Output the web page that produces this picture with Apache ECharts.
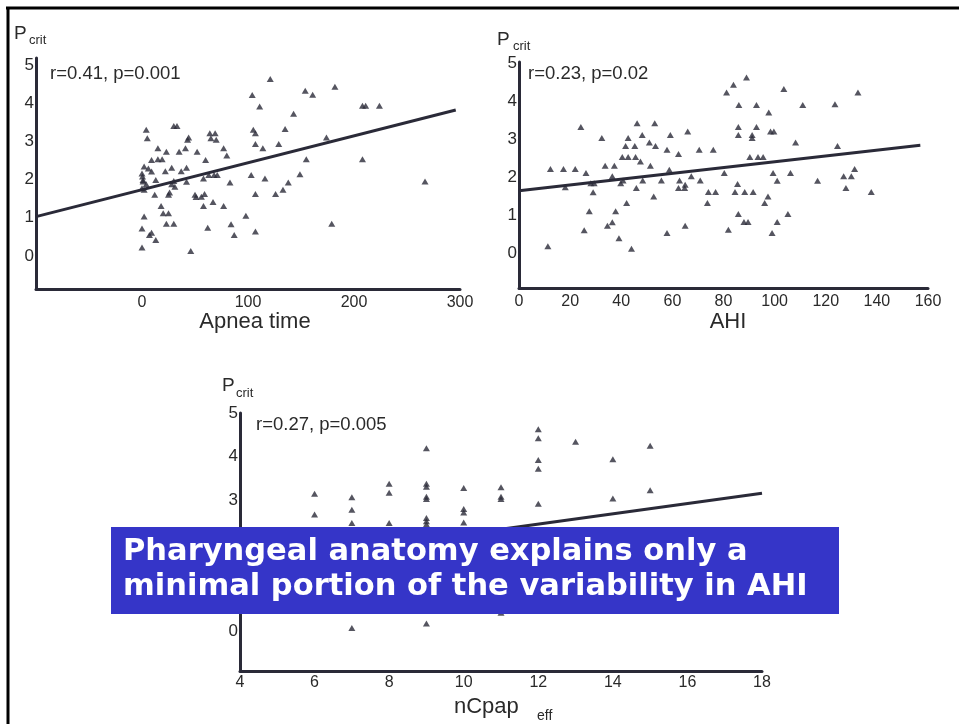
<!DOCTYPE html>
<html><head><meta charset="utf-8">
<script src="https://cdn.jsdelivr.net/npm/echarts@6/dist/echarts.min.js"></script>
<style>html,body{margin:0;padding:0;background:#fff}#c{width:959px;height:724px}</style>
</head><body><div id="c"></div>
<script>
// ---- data ----
const apneaPcrit = [
 [121,4.63],[104,4.21],[154,4.32],[161,4.22],[111,3.91],[143,3.72],
 [4,3.30],[5,3.08],[30,3.40],[33,3.40],[44,3.10],[43,3.04],[64,3.21],[69,3.21],[65,3.08],[70,3.04],[105,3.30],[107,3.21],[135,3.32],
 [15,2.82],[23,2.73],[35,2.73],[41,2.82],[52,2.73],[77,2.82],[80,2.63],[107,2.93],[114,2.82],[129,2.93],
 [9,2.51],[15,2.53],[19,2.53],[60,2.51],[155,2.53],
 [2,2.34],[6,2.29],[9,2.21],[22,2.22],[28,2.31],[37,2.22],[42,2.31],
 [0,2.16],[0.5,2.08],[1,1.99],[1,1.95],[4,1.88],[13,1.99],[30,1.96],[28,1.88],[31,1.81],[42,1.94],[58,2.03],[63,2.12],[68,2.12],[71,2.12],[83,1.92],[103,2.12],[116,2.03],[149,2.14],
 [0,1.77],[2,1.73],[12,1.60],[25,1.60],[26,1.66],[50,1.60],[51,1.54],[56,1.55],[59,1.62],[107,1.62],[126,1.62],[133,1.73],[138,1.92],
 [18,1.31],[20,1.12],[25,1.12],[58,1.31],[67,1.41],[77,1.31],[98,1.05],[2,1.03],[0,0.72],[23,0.84],[30,0.84],[9,0.61],[7,0.55],[13,0.42],[62,0.74],[84,0.83],[87,0.55],[107,0.64],[0,0.22],[46,0.13],
 [182,4.43],[208,3.93],[211,3.93],[224,3.93],[174,3.10],[208,2.53],[267,1.95],[179,0.84]
];
const ahiPcrit = [
 [11.3,0.18],[12.3,2.21],[17.4,2.21],[18.1,1.73],[22,2.21],[24.2,3.32],[26.2,2.11],[25.5,0.60],[27.5,1.10],[28.1,1.84],[29.4,1.84],[29,1.60],
 [32.4,3.03],[33.7,2.30],[34.6,0.72],[36.5,0.81],[36.5,2.02],[37.3,2.30],[37.8,1.10],[39.1,0.39],[39.8,1.84],[40.7,1.91],[40.4,2.53],[42.7,2.53],
 [41.7,2.82],[42.7,3.03],[42.1,1.32],[44,0.11],[45.3,2.82],[45.6,2.53],[46.2,3.42],[45.9,1.71],[47.5,2.41],[48.2,3.11],[48.4,1.91],
 [51,2.91],[51.4,2.30],[52.7,1.49],[53.1,3.42],[53.4,2.82],[55.7,1.91],[57.9,2.72],[57.9,0.53],[59.2,3.11],[58.8,2.19],
 [62.4,2.61],[62.8,1.91],[62.4,1.71],[64.8,1.71],[65,1.80],[65,0.72],[66,3.20],[67.4,2.02],[70.5,2.72],[70.9,1.91],
 [73.7,1.32],[74.1,1.61],[76.9,1.61],[76,2.72],[80.3,2.11],[81.2,4.23],[81.9,0.61],[83.9,4.43],[86,3.90],[85.8,3.32],[85.8,3.11],
 [85.5,1.82],[85.8,1.03],[84.5,1.61],[89,4.62],[88,0.82],[89.6,0.82],[88.3,1.61],[91.6,1.61],[90.3,2.53],[91.2,3.11],[91.2,3.03],
 [92.9,3.90],[92.9,3.32],[93.5,2.53],[95.5,2.53],[96.1,1.32],[97.4,1.49],[97.7,3.70],[98.4,3.20],[99.7,3.20],[99.4,2.11],[99,0.53],
 [101,1.90],[101,0.82],[103.6,4.32],[105.2,1.03],[106.2,2.11],[108.2,2.91],[111,3.90],[116.8,1.90],[123.6,3.92],[124.6,2.82],
 [127,2.02],[130,2.02],[127.9,1.71],[131.3,2.21],[132.6,4.23],[137.8,1.61]
];
const ncpapPcrit = [
 [6,3.15],[6,2.67],[7,3.07],[7,2.78],[7,2.48],[7,0.07],[8,3.38],[8,3.17],[8,2.48],
 [9,4.19],[9,3.38],[9,3.31],[9,3.08],[9,3.03],[9,2.59],[9,2.52],[9,2.45],[9,0.17],
 [10,3.28],[10,2.80],[10,2.72],[10,2.49],[11,3.30],[11,3.08],[11,3.03],[11,0.42],
 [12,4.63],[12,4.42],[12,3.92],[12,3.72],[12,2.92],[13,4.34],[14,3.94],[14,3.04],[15,4.25],[15,3.23]
];
const apneaFit = [[-100,1.03],[296,3.82]];
const ahiFit = [[0,1.64],[157,2.84]];
const ncpapFit = [[4,1.51],[18,3.16]];
const yTicks = [0,1,2,3,4,5];
const apneaTicks = [0,100,200,300];
const ahiTicks = [0,20,40,60,80,100,120,140,160];
const ncpapTicks = [4,6,8,10,12,14,16,18];
const statsText = ['r=0.41, p=0.001','r=0.23, p=0.02','r=0.27, p=0.005'];
const xNames = ['Apnea time','AHI','nCpap'];
const bannerLines = ['Pharyngeal anatomy explains only a','minimal portion of the variability in AHI'];

// ---- chart ----
const ink = '#2a2a38';
const font = "'Liberation Sans', Arial, sans-serif";
const chart = echarts.init(document.getElementById('c'), null, {renderer:'canvas'});

function xAx(idx, min, max, ticks, margin){
  return {gridIndex: idx, type:'value', min, max,
    axisLine:{show:true, onZero:false, lineStyle:{color:ink, width:3}},
    axisTick:{show:false}, splitLine:{show:false},
    axisLabel:{customValues: ticks, margin, color:'#2a2a2a', fontSize:16, fontFamily:font, showMinLabel:true, showMaxLabel:true}};
}
function yAx(idx, min, max){
  return {gridIndex: idx, type:'value', min, max,
    axisLine:{show:true, onZero:false, lineStyle:{color:ink, width:3}},
    axisTick:{show:false}, splitLine:{show:false},
    axisLabel:{customValues: yTicks, margin:2, color:'#2a2a2a', fontSize:17, fontFamily:font, showMinLabel:true, showMaxLabel:true}};
}
function scat(i, data){
  return {type:'scatter', xAxisIndex:i, yAxisIndex:i, data, symbol:'triangle', symbolSize:[7,6],
    itemStyle:{color:ink}, silent:true, z:3};
}
function fit(i, data){
  return {type:'line', xAxisIndex:i, yAxisIndex:i, data, symbol:'none',
    lineStyle:{color:ink, width:3}, silent:true, z:2};
}
function txt(x, y, text, size, extra){
  return Object.assign({type:'text', x, y, silent:true, z:50,
    style:{text, fill:'#2a2a2a', font: size + 'px ' + font, textVerticalAlign:'middle', textAlign:'left'}}, extra||{});
}
function ctxt(x, y, text, size){
  return {type:'text', x, y, silent:true, z:50,
    style:{text, fill:'#2a2a2a', font: size + 'px ' + font, textAlign:'center', textVerticalAlign:'middle'}};
}
const bannerFont = "bold 30.5px 'DejaVu Sans', Verdana, sans-serif";

const graphic = [
  {type:'line', shape:{x1:6, y1:8, x2:959, y2:8}, style:{stroke:'#000', lineWidth:3}, z:50},
  {type:'line', shape:{x1:8, y1:7, x2:8, y2:724}, style:{stroke:'#000', lineWidth:3}, z:50},
  // P_crit labels
  txt(14, 34, 'P', 19), txt(29, 40, 'crit', 13),
  txt(497, 40, 'P', 19), txt(513, 46, 'crit', 13),
  txt(222, 386, 'P', 19), txt(236, 393, 'crit', 13),
  // stats
  txt(50, 74, statsText[0], 18.5), txt(528, 74, statsText[1], 18.5), txt(256, 425, statsText[2], 18.5),
  // axis names
  ctxt(255, 322, xNames[0], 22), ctxt(728, 322, xNames[1], 22),
  txt(454, 707, xNames[2], 22), txt(537, 716, 'eff', 14),
  // banner
  {type:'rect', shape:{x:111, y:527, width:728, height:87}, style:{fill:'#3535c8'}, z:100, silent:true},
  {type:'text', x:123, y:552, z:101, silent:true, style:{text:bannerLines[0], fill:'#fff', font:bannerFont, textVerticalAlign:'middle'}},
  {type:'text', x:123, y:587, z:101, silent:true, style:{text:bannerLines[1], fill:'#fff', font:bannerFont, textVerticalAlign:'middle'}}
];

chart.setOption({
  animation:false,
  backgroundColor:'#fff',
  grid:[
    {left:36, top:58, width:424, height:231},
    {left:519, top:62, width:409, height:226},
    {left:240, top:413, width:522, height:258}
  ],
  xAxis:[xAx(0,-100,300,apneaTicks,6), xAx(1,0,160,ahiTicks,6), xAx(2,4,18,ncpapTicks,4)],
  yAxis:[yAx(0,-0.864,5.18), yAx(1,-0.921,5.03), yAx(2,-0.917,5.0)],
  series:[scat(0,apneaPcrit), fit(0,apneaFit), scat(1,ahiPcrit), fit(1,ahiFit), scat(2,ncpapPcrit), fit(2,ncpapFit)],
  graphic
});
</script></body></html>
